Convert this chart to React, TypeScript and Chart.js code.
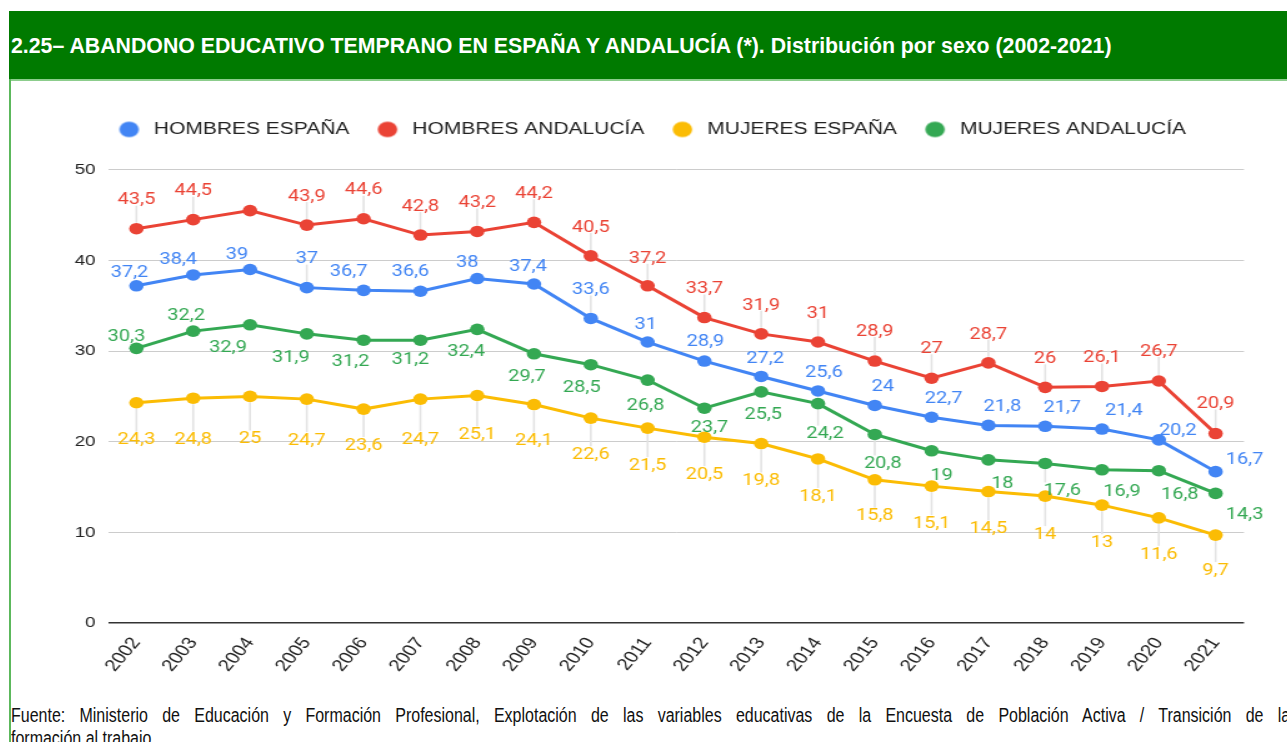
import React, { useEffect, useRef } from 'react';
import { Chart, registerables } from 'chart.js';

Chart.register(...registerables);

// ---------- data ----------
const YEARS = ['2002', '2003', '2004', '2005', '2006', '2007', '2008', '2009', '2010', '2011', '2012', '2013', '2014', '2015', '2016', '2017', '2018', '2019', '2020', '2021'];
const HOMBRES_ESPANA = [37.2, 38.4, 39, 37, 36.7, 36.6, 38, 37.4, 33.6, 31, 28.9, 27.2, 25.6, 24, 22.7, 21.8, 21.7, 21.4, 20.2, 16.7];
const HOMBRES_ANDALUCIA = [43.5, 44.5, 45.5, 43.9, 44.6, 42.8, 43.2, 44.2, 40.5, 37.2, 33.7, 31.9, 31, 28.9, 27, 28.7, 26, 26.1, 26.7, 20.9];
const MUJERES_ESPANA = [24.3, 24.8, 25, 24.7, 23.6, 24.7, 25.1, 24.1, 22.6, 21.5, 20.5, 19.8, 18.1, 15.8, 15.1, 14.5, 14, 13, 11.6, 9.7];
const MUJERES_ANDALUCIA = [30.3, 32.2, 32.9, 31.9, 31.2, 31.2, 32.4, 29.7, 28.5, 26.8, 23.7, 25.5, 24.2, 20.8, 19, 18, 17.6, 16.9, 16.8, 14.3];
const SERIES_NAMES = ['HOMBRES ESPAÑA', 'HOMBRES ANDALUCÍA', 'MUJERES ESPAÑA', 'MUJERES ANDALUCÍA'];
const SERIES_VALUES = [HOMBRES_ESPANA, HOMBRES_ANDALUCIA, MUJERES_ESPANA, MUJERES_ANDALUCIA];
const SERIES_COLORS = ['#4285F4', '#EA4335', '#FBBC04', '#34A853'];
const Y_MIN = 0;
const Y_MAX = 50;
const Y_STEP = 10;

const TITLE = '2.25– ABANDONO EDUCATIVO TEMPRANO EN ESPAÑA Y ANDALUCÍA (*). Distribución por sexo (2002-2021)';
const SOURCE_LINE_1 = 'Fuente: Ministerio de Educación y Formación Profesional, Explotación de las variables educativas de la Encuesta de Población Activa / Transición de la';
const SOURCE_LINE_2 = 'formación al trabajo';

// ---------- annotation placement (screen px offsets from each point: [dx, dy]; null = hidden) ----------
type Off = [number, number] | null;
const OFF_HOMBRES_ESPANA: Off[] = [[-7, -15], [-15, -17], [-13, -16], [0, -30], [-15, -20], [-10, -21], [-10, -17], [-6, -19], [0, -30], [-2, -19], [1, -21], [4, -19], [6, -20], [8, -20], [12, -20], [14, -20], [17, -20], [22, -20], [19, -11], [29, -13]];
const OFF_HOMBRES_ANDALUCIA: Off[] = [[0, -30], [0, -30], null, [0, -30], [0, -30], [0, -30], [0, -30], [0, -30], [0, -30], [0, -29], [0, -30], [0, -30], [0, -30], [0, -31], [0, -31], [0, -30], [0, -30], [0, -30], [0, -31], [0, -31]];
const OFF_MUJERES_ESPANA: Off[] = [[0, 36], [0, 40], [0, 41], [0, 40], [0, 35], [0, 39], [0, 38], [0, 35], [0, 35], [0, 36], [0, 36], [0, 36], [0, 36], [0, 35], [0, 36], [0, 36], [0, 37], [0, 36], [0, 35], [0, 34]];
const OFF_MUJERES_ANDALUCIA: Off[] = [[-10, -13], [-7, -17], [-22, 22], [-16, 22], [-13, 20], [-10, 18], [-11, 21], [-7, 22], [-9, 22], [-2, 24], [5, 18], [2, 21], [7, 29], [8, 28], [10, 24], [14, 22], [17, 26], [20, 20], [21, 23], [29, 20]];
const LABEL_OFFSETS = [OFF_HOMBRES_ESPANA, OFF_HOMBRES_ANDALUCIA, OFF_MUJERES_ESPANA, OFF_MUJERES_ANDALUCIA];

// ---------- geometry ----------
const STRETCH = 1.25; // chart image is displayed horizontally stretched
const CANVAS_CSS_W = 1290;
const CANVAS_W = Math.round(CANVAS_CSS_W / STRETCH);
const CANVAS_H = 619;
const SANS = "'Liberation Sans', Arial, sans-serif";

function fmt(v: number) {
  return String(v).replace('.', ',');
}

function legendDot(color: string) {
  const c = document.createElement('canvas');
  c.width = 18;
  c.height = 18;
  const g = c.getContext('2d')!;
  g.fillStyle = color;
  g.beginPath();
  g.arc(9, 9, 7.8, 0, Math.PI * 2);
  g.fill();
  return c;
}

const legendSpacer = {
  id: 'legendSpacer',
  beforeLayout(chart: any) {
    const lg = chart.legend;
    if (lg && !lg.__patched) {
      const orig = lg.fit;
      lg.fit = function () {
        orig.call(this);
        this.height += 22;
      };
      lg.__patched = true;
    }
  },
};

const annotations = {
  id: 'annotations',
  beforeDatasetsDraw(chart: any) {
    const ctx = chart.ctx;
    ctx.save();
    ctx.strokeStyle = '#e3e3e3';
    ctx.lineWidth = 1.6;
    chart.data.datasets.forEach((_ds: any, di: number) => {
      const meta = chart.getDatasetMeta(di);
      meta.data.forEach((pt: any, i: number) => {
        const off = LABEL_OFFSETS[di][i];
        if (!off) return;
        const dy = off[1];
        if (Math.abs(dy) < 25) return;
        const dir = Math.sign(dy);
        ctx.beginPath();
        ctx.moveTo(pt.x, pt.y + dir * 6);
        ctx.lineTo(pt.x, pt.y + dy - dir * 7);
        ctx.stroke();
      });
    });
    ctx.restore();
  },
  afterDatasetsDraw(chart: any) {
    const ctx = chart.ctx;
    ctx.save();
    ctx.font = '16px Roboto';
    ctx.textAlign = 'center';
    ctx.textBaseline = 'alphabetic';
    const cap = 16 * 0.711;
    chart.data.datasets.forEach((ds: any, di: number) => {
      const meta = chart.getDatasetMeta(di);
      ctx.fillStyle = SERIES_COLORS[di];
      meta.data.forEach((pt: any, i: number) => {
        const off = LABEL_OFFSETS[di][i];
        if (!off) return;
        ctx.fillText(fmt(ds.data[i]), pt.x + off[0] / STRETCH, pt.y + off[1] + cap / 2);
      });
    });
    ctx.restore();
  },
};

function LineChart() {
  const ref = useRef<HTMLCanvasElement>(null);
  useEffect(() => {
    if (!ref.current) return;
    const chart = new Chart(ref.current, {
      type: 'line',
      data: {
        labels: YEARS,
        datasets: SERIES_VALUES.map((vals, i) => ({
          label: SERIES_NAMES[i],
          data: vals,
          borderColor: SERIES_COLORS[i],
          backgroundColor: SERIES_COLORS[i],
          pointBackgroundColor: SERIES_COLORS[i],
          pointBorderColor: SERIES_COLORS[i],
          pointRadius: 5.8,
          pointBorderWidth: 0,
          borderWidth: 3,
          tension: 0,
          yAxisID: 'y',
        })),
      },
      options: {
        responsive: false,
        animation: false,
        devicePixelRatio: 1,
        layout: { padding: { top: 21, right: 9, left: 0, bottom: 0 } },
        plugins: {
          tooltip: { enabled: false },
          legend: {
            position: 'top',
            align: 'center',
            labels: {
              usePointStyle: true,
              pointStyleWidth: 23,
              padding: 19,
              color: '#222',
              font: { family: SANS, size: 16.8 },
              generateLabels: (c: any) =>
                (Chart.defaults.plugins.legend.labels as any).generateLabels(c).map((l: any, i: number) => ({
                  ...l,
                  pointStyle: legendDot(SERIES_COLORS[i]),
                })),
            },
          },
        },
        scales: {
          x: {
            offset: true,
            grid: { display: false, drawTicks: false },
            border: { display: false },
            ticks: {
              autoSkip: false,
              minRotation: 55,
              maxRotation: 55,
              padding: 11,
              color: '#222',
              font: { family: SANS, size: 16.5 },
            },
            afterFit: (s: any) => {
              s.height = 77;
            },
          },
          y: {
            min: Y_MIN,
            max: Y_MAX,
            border: { display: false },
            grid: {
              drawTicks: false,
              color: (c: any) => (c.tick && c.tick.value === 0 ? '#333333' : '#cccccc'),
              lineWidth: (c: any) => (c.tick && c.tick.value === 0 ? 1.4 : 1),
            },
            ticks: {
              stepSize: Y_STEP,
              padding: 10,
              color: '#222',
              font: { family: SANS, size: 15 },
            },
            afterFit: (s: any) => {
              s.width = 77.6;
            },
          },
          y2: {
            position: 'right',
            display: true,
            grid: { display: false, drawTicks: false },
            border: { display: false },
            ticks: { display: false },
            afterFit: (s: any) => {
              s.width = 36.6;
            },
          },
        },
      } as any,
      plugins: [legendSpacer, annotations],
    });
    return () => chart.destroy();
  }, []);
  return (
    <canvas
      ref={ref}
      width={CANVAS_W}
      height={CANVAS_H}
      style={{ width: CANVAS_CSS_W + 'px', height: CANVAS_H + 'px', display: 'block' }}
    />
  );
}

export default function App() {
  return (
    <div style={{ position: 'absolute', left: 0, top: 0, width: 1287, height: 742, overflow: 'hidden', background: '#fff' }}>
      <div style={{ position: 'absolute', left: 9, top: 11, width: 1400, height: 68, background: '#007A00' }} />
      <div style={{ position: 'absolute', left: 9, top: 79, width: 1400, height: 2, background: '#8ccd8c' }} />
      <div style={{ position: 'absolute', left: 9, top: 79, width: 2, height: 700, background: '#5cb85c' }} />
      <div
        style={{
          position: 'absolute',
          left: 11,
          top: 36,
          whiteSpace: 'nowrap',
          color: '#fff',
          fontFamily: SANS,
          fontWeight: 'bold',
          fontSize: 21.3,
          lineHeight: '21px',
        }}
      >
        {TITLE}
      </div>
      <div style={{ position: 'absolute', left: 11, top: 81 }}>
        <LineChart />
      </div>
      <div
        style={{
          position: 'absolute',
          left: 11,
          top: 704,
          width: 1560,
          transform: 'scaleX(0.82)',
          transformOrigin: '0 0',
          fontFamily: SANS,
          fontSize: 19.5,
          lineHeight: '23px',
          color: '#111',
        }}
      >
        <div style={{ textAlign: 'justify', textAlignLast: 'justify', whiteSpace: 'nowrap' as any }}>{SOURCE_LINE_1}</div>
        <div>{SOURCE_LINE_2}</div>
      </div>
    </div>
  );
}
